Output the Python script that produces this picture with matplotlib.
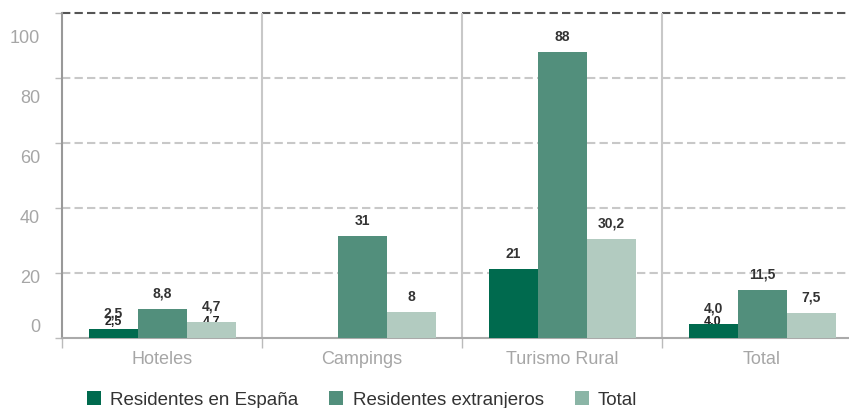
import matplotlib.pyplot as plt
from matplotlib.patches import Patch
import numpy as np

plt.rcParams['font.family'] = ['Liberation Sans', 'DejaVu Sans']

# categories and values (bar heights, labels as printed)
categorias = ['Hoteles', 'Campings', 'Turismo Rural', 'Total']
series = ['Residentes en España', 'Residentes extranjeros', 'Total']
espana = [2.7, 0, 21.2, 4.3]
extranjeros = [8.9, 31.4, 88, 14.8]
total = [5.0, 8.0, 30.5, 7.7]
etiq_espana = ['2,5', '', '21', '4,0']
etiq_extranjeros = ['8,8', '31', '88', '11,5']
etiq_total = ['4,7', '8', '30,2', '7,5']
# duplicated labels that show up half hidden behind the small bars
etiq_fantasma = [('2,5', 0, 0), ('4,7', 0, 2), ('4,0', 3, 0)]
yticks = [0, 20, 40, 60, 80, 100]

colores = ['#006a4e', '#528f7c', '#b2cbc0']
colores_leyenda = ['#006a4e', '#528f7c', '#8bb5a6']

fig = plt.figure(figsize=(8.49, 4.08), dpi=100)
ax = fig.add_axes([62 / 849, 70 / 408, 800 / 849, 325 / 408])

x = np.arange(len(categorias))
w = 0.245
datos = [espana, extranjeros, total]
etiquetas = [etiq_espana, etiq_extranjeros, etiq_total]

for i, (vals, col) in enumerate(zip(datos, colores)):
    pos = x + (i - 1) * w
    ax.bar(pos, vals, width=w, color=col, zorder=3)
    for p, v, t in zip(pos, vals, etiquetas[i]):
        if t:
            ax.annotate(t, (p, v), xytext=(0, 6), textcoords='offset points',
                        ha='center', va='bottom', fontsize=10, fontweight='bold',
                        color='#333333', zorder=5)

for t, ci, si in etiq_fantasma:
    ax.text(x[ci] + (si - 1) * w, 5, t, ha='center', va='center', fontsize=9,
            fontweight='bold', color='#222222', zorder=2)

ax.set_xlim(-0.5, 3.5)
ax.set_ylim(0, 100)

# grid
for v in yticks[1:-1]:
    ax.axhline(v, color='#c8c8c8', lw=1.5, ls=(0, (4, 2)), zorder=1)
ax.axhline(100, color='#555555', lw=1.5, ls=(0, (4, 2)), zorder=1, clip_on=False)
for b in x[:-1] + 0.5:
    ax.axvline(b, color='#c8c8c8', lw=1.5, zorder=1)

for s in ['top', 'right']:
    ax.spines[s].set_visible(False)
ax.spines['left'].set_color('#999999')
ax.spines['left'].set_linewidth(1.5)
ax.spines['bottom'].set_color('#aaaaaa')
ax.spines['bottom'].set_linewidth(1.5)

ax.set_yticks(yticks)
ax.set_yticklabels([])
ax.tick_params(axis='y', length=5, width=1, color='#bbbbbb')
# tick labels sit on a slightly compressed scale in the original
for v in yticks:
    yl = 3.1 if v == 0 else v * 0.923
    ax.text(-0.0275, yl, str(v), transform=ax.get_yaxis_transform(),
            ha='right', va='center', fontsize=13, color='#a6a6a6')

ax.set_xticks(x)
ax.set_xticklabels(categorias, fontsize=13, color='#a6a6a6')
ax.tick_params(axis='x', length=0, pad=9)
ax.set_xticks(np.arange(-0.5, 4.0, 1.0), minor=True)
ax.tick_params(axis='x', which='minor', length=7, width=1, color='#bbbbbb')

handles = [Patch(facecolor=c, edgecolor='none') for c in colores_leyenda]
fig.legend(handles, series, loc='center', bbox_to_anchor=(362 / 849, 1 - 400 / 408),
           ncol=3, frameon=False, fontsize=13.5, handlelength=0.75, handleheight=0.75,
           handletextpad=0.5, columnspacing=1.65, labelcolor='#333333')

fig.savefig('out.png', dpi=100)
